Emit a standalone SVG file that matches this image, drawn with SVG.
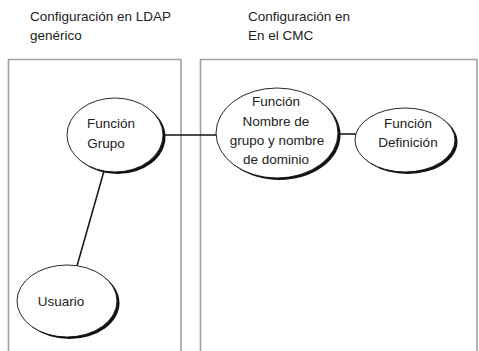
<svg xmlns="http://www.w3.org/2000/svg" width="479" height="351" viewBox="0 0 479 351">
<style>
.t{font-family:"Liberation Sans",Arial,sans-serif;font-size:13.5px;fill:#222}
.n{font-family:"Liberation Sans",Arial,sans-serif;font-size:13.5px;fill:#222;text-anchor:middle}
.box{fill:none;stroke:#a0a0a0;stroke-width:1.6}
.sh{fill:#111}
.el{fill:#fff;stroke:#111;stroke-width:0.9}
.c{stroke:#111;stroke-width:1.5;fill:none}
</style>
<rect width="479" height="351" fill="#fff"/>
<g id="titles">
<text class="t" x="30" y="21">Configuración en LDAP</text>
<text class="t" x="30" y="40">genérico</text>
<text class="t" x="248" y="21">Configuración en</text>
<text class="t" x="248" y="40">En el CMC</text>
</g>
<g id="panels">
<path class="box" d="M8.5 352V59.5H181V352"/>
<path class="box" d="M200.5 352V59.5H477V352"/>
</g>
<g id="connectors">
<line class="c" x1="104" y1="171" x2="77" y2="266"/>
<line class="c" x1="163" y1="135" x2="217" y2="135"/>
<line class="c" x1="337" y1="134" x2="357" y2="134"/>
</g>
<g id="grupo">
<ellipse class="sh" cx="117.5" cy="137" rx="48" ry="37"/>
<ellipse class="el" cx="115" cy="135" rx="48" ry="37"/>
<text class="n" x="111" y="128">Función</text>
<text class="n" x="106" y="148">Grupo</text>
</g>
<g id="usuario">
<ellipse class="sh" cx="69.5" cy="303" rx="50" ry="36"/>
<ellipse class="el" cx="67" cy="301" rx="50" ry="36"/>
<text class="n" x="61" y="306">Usuario</text>
</g>
<g id="nombre">
<ellipse class="sh" cx="279.5" cy="135" rx="61" ry="45"/>
<ellipse class="el" cx="277" cy="133" rx="61" ry="45"/>
<text class="n" x="276" y="106">Función</text>
<text class="n" x="276" y="126">Nombre de</text>
<text class="n" x="277" y="145">grupo y nombre</text>
<text class="n" x="276" y="164">de dominio</text>
</g>
<g id="definicion">
<ellipse class="sh" cx="407.5" cy="142" rx="50" ry="32"/>
<ellipse class="el" cx="405" cy="140" rx="50" ry="32"/>
<text class="n" x="408" y="128">Función</text>
<text class="n" x="408" y="147">Definición</text>
</g>
</svg>
